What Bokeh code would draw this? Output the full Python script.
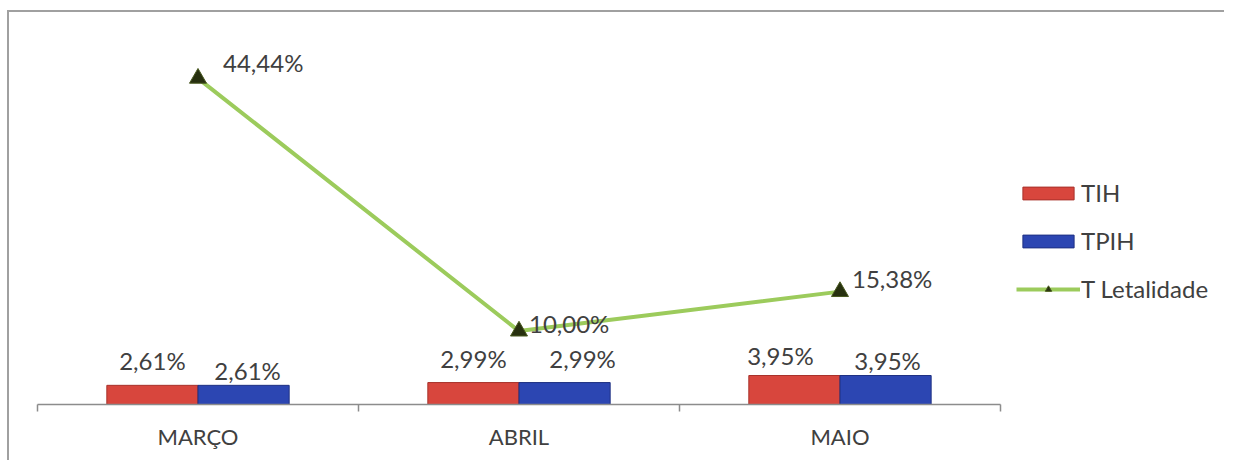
from bokeh.plotting import figure
from bokeh.models import (Range1d, ColumnDataSource, LinearAxis, FixedTicker, Legend, LegendItem)
from bokeh.transform import dodge
from bokeh.core.properties import value
from bokeh.embed import file_html
from bokeh.resources import INLINE

# ---- data ----
months = ["MARÇO", "ABRIL", "MAIO"]
tih = [2.61, 2.99, 3.95]
tpih = [2.61, 2.99, 3.95]
letalidade = [44.44, 10.00, 15.38]

def fmt(v):
    return f"{v:.2f}".replace(".", ",") + "%"

tih_labels = [fmt(v) for v in tih]
tpih_labels = [fmt(v) for v in tpih]
let_labels = [fmt(v) for v in letalidade]

# label offsets (screen px), style only
tih_dx = [0, 0, -14]
tih_dy = [-25, -24, -20]
tpih_dx = [4, 18, 2]
tpih_dy = [-15, -24, -15]
let_dx = [25, 10, 12]
let_dy = [-16, -8, -13]

FONT = "Lato"
TXT = "#404040"
RED = "#d8463d"
RED_EDGE = "#a8322b"
BLUE = "#2c46b2"
BLUE_EDGE = "#1f3183"
GREEN = "#9ccb5c"

# category slots on a numeric axis: slot i spans [i, i+1], centre i+0.5
pos = [i + 0.5 for i in range(len(months))]
n = len(months)

src = ColumnDataSource(dict(
    pos=pos, month=months, tih=tih, tpih=tpih, let=letalidade,
    tih_l=tih_labels, tpih_l=tpih_labels, let_l=let_labels,
    tih_dx=tih_dx, tih_dy=tih_dy, tpih_dx=tpih_dx, tpih_dy=tpih_dy,
    let_dx=let_dx, let_dy=let_dy,
))

# the frame also holds the legend area on the right (x beyond n)
p = figure(width=1217, height=450, x_range=Range1d(0, n * 1.2347), y_range=Range1d(0, 50),
           output_backend="svg", toolbar_location=None, x_axis_location=None,
           y_axis_location=None, min_border_left=28, min_border_right=0,
           min_border_top=25, min_border_bottom=58,
           styles={"border-top": "2px solid #a0a0a0", "border-left": "2px solid #a0a0a0",
                   "margin-top": "10px", "margin-left": "7px"})
p.outline_line_color = None
p.xgrid.grid_line_color = None
p.ygrid.grid_line_color = None
p.background_fill_color = "white"
p.border_fill_color = "white"

bw = 0.284
r_tih = p.vbar(x=dodge("pos", -bw / 2), top="tih", bottom=0, width=bw,
               source=src, fill_color=RED, line_color=RED_EDGE, line_width=1)
r_tpih = p.vbar(x=dodge("pos", bw / 2), top="tpih", bottom=0, width=bw,
                source=src, fill_color=BLUE, line_color=BLUE_EDGE, line_width=1)

r_line = p.line(x="pos", y="let", source=src, line_color=GREEN, line_width=4)
r_mark = p.scatter(x="pos", y="let", source=src, marker="triangle", size=17,
                   fill_color="#27300f", line_color="#4a5a20", line_width=1)

common = dict(text_font=value(FONT), text_font_size="24px", text_color=TXT)
p.text(x=dodge("pos", -bw / 2), y="tih", text="tih_l", source=src,
       x_offset="tih_dx", y_offset="tih_dy", text_align="center", text_baseline="middle", **common)
p.text(x=dodge("pos", bw / 2), y="tpih", text="tpih_l", source=src,
       x_offset="tpih_dx", y_offset="tpih_dy", text_align="center", text_baseline="middle", **common)
p.text(x="pos", y="let", text="let_l", source=src, x_offset="let_dx", y_offset="let_dy",
       text_align="left", text_baseline="middle", **common)

# boundary tick axis (no labels), limited to the category slots
bounds = list(range(n + 1))
tick_axis = LinearAxis(ticker=FixedTicker(ticks=bounds), bounds=(0, n),
                       major_label_overrides={b: "" for b in bounds})
tick_axis.axis_line_color = "#8c8c8c"
tick_axis.axis_line_width = 1.5
tick_axis.major_tick_line_color = "#8c8c8c"
tick_axis.major_tick_line_width = 1.5
tick_axis.major_tick_in = 0
tick_axis.major_tick_out = 7
tick_axis.minor_tick_line_color = None
tick_axis.major_label_text_font_size = "1px"
tick_axis.major_label_standoff = 0
p.add_layout(tick_axis, "below")

# category label axis
cat_axis = LinearAxis(ticker=FixedTicker(ticks=pos), bounds=(0, n),
                      major_label_overrides={x: m for x, m in zip(pos, months)})
cat_axis.axis_line_color = None
cat_axis.major_tick_line_color = None
cat_axis.minor_tick_line_color = None
cat_axis.major_label_text_font = FONT
cat_axis.major_label_text_font_size = "22px"
cat_axis.major_label_text_color = TXT
cat_axis.major_label_standoff = 5
p.add_layout(cat_axis, "below")

legend = Legend(items=[
    LegendItem(label="TIH", renderers=[r_tih]),
    LegendItem(label="TPIH", renderers=[r_tpih]),
    LegendItem(label="T Letalidade", renderers=[r_line, r_mark]),
], location=(979, 101))
legend.border_line_color = None
legend.background_fill_alpha = 0
legend.padding = 0
legend.margin = 0
legend.glyph_width = 64
legend.glyph_height = 16
legend.label_standoff = 1
legend.spacing = 19
legend.label_text_font = FONT
legend.label_text_font_size = "24px"
legend.label_text_color = TXT
p.add_layout(legend, "center")

open("out.html", "w").write(file_html(p, INLINE))
